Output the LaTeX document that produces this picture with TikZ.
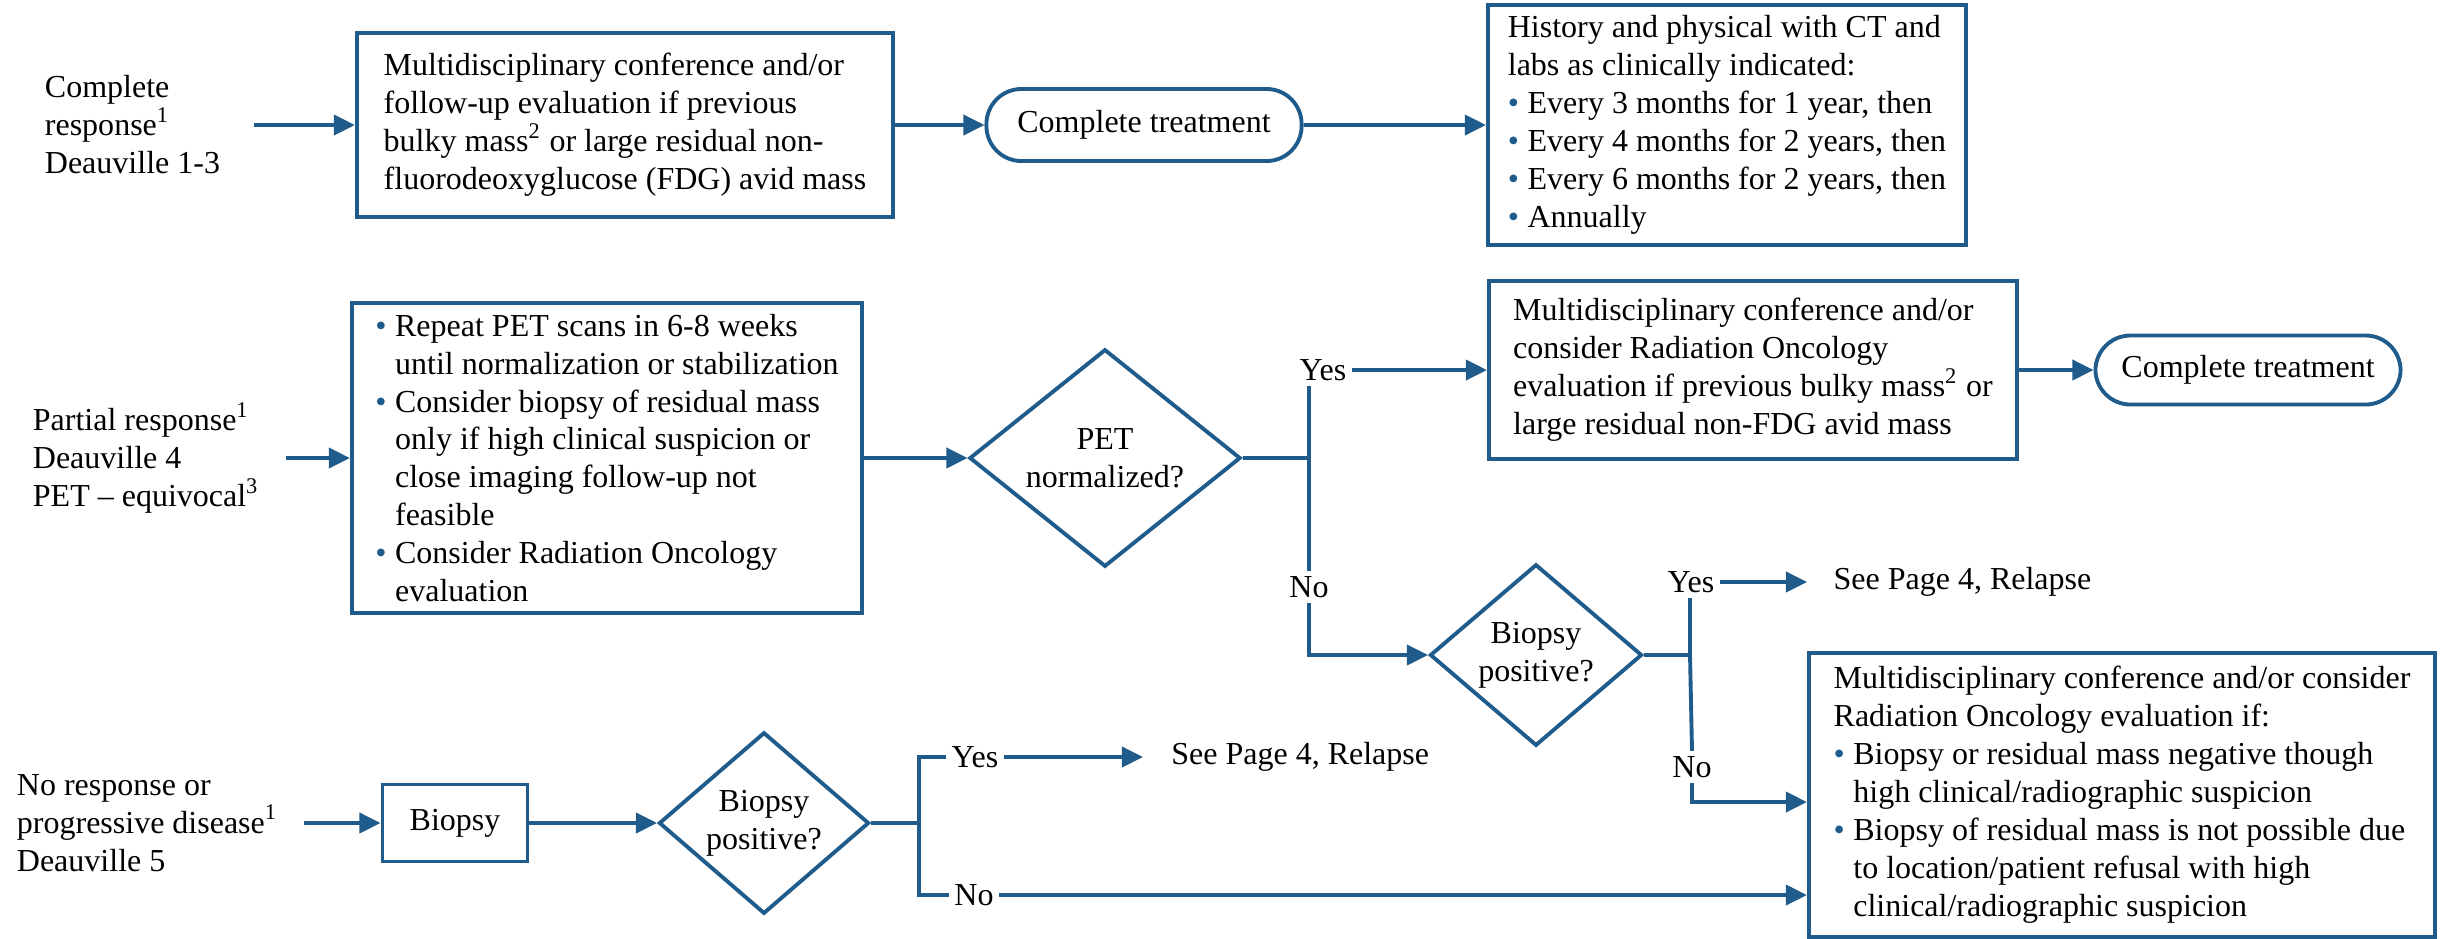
\documentclass[tikz,border=0pt]{standalone}
\usepackage{fontspec}
\setmainfont{Liberation Serif}
\usetikzlibrary{positioning}
\usetikzlibrary{shapes.geometric}
\usetikzlibrary{arrows.meta}

\definecolor{nccn}{HTML}{1F5C8B}
\newcommand{\bul}{\makebox[5.6pt][l]{\textcolor{nccn}{\textbullet}}}
\newcommand{\bulind}{\hspace*{5.6pt}}

\begin{document}
\begin{tikzpicture}[x=0.01cm, y=-0.01cm, line width=1.1pt,
    every node/.style={font=\rmfamily\fontsize{9.1}{10.8}\selectfont},
    box/.style={draw=nccn, rectangle, align=left, inner xsep=4pt, inner ysep=1pt},
    pill/.style={draw=nccn, rectangle, rounded corners=0.35cm, align=center},
    dec/.style={draw=nccn, diamond, align=center, inner sep=0pt},
    resp/.style={anchor=west, align=left, inner sep=0pt},
    lbl/.style={inner sep=1pt},
    arr/.style={draw=nccn, -{Triangle[length=6pt,width=5.7pt]}},
    conn/.style={draw=nccn}]
        \useasboundingbox (0,0) rectangle (2443,938);

        % complete response
        \node[resp] (cr) at (43,125) {Complete\\response\textsuperscript{1}\\Deauville 1-3};
        \node[box, minimum width=5.36cm, minimum height=1.84cm] (conf1) at (625,125) {Multidisciplinary conference and/or\\follow-up evaluation if previous\\bulky mass\textsuperscript{2} or large residual non-\\fluorodeoxyglucose (FDG) avid mass};
        \node[pill, minimum width=3.15cm, minimum height=0.72cm] (done1) at (1144,125) {Complete treatment};
        \node[box, minimum width=4.78cm, minimum height=2.40cm] (hist) at (1727,125) {History and physical with CT and\\labs as clinically indicated:\\\bul Every 3 months for 1 year, then\\\bul Every 4 months for 2 years, then\\\bul Every 6 months for 2 years, then\\\bul Annually};

        % partial response
        \node[resp] (pr) at (31,458) {Partial response\textsuperscript{1}\\Deauville 4\\PET \textendash{} equivocal\textsuperscript{3}};
        \node[box, minimum width=5.10cm, minimum height=3.10cm] (rpt) at (607,458) {\bul Repeat PET scans in 6-8 weeks\\\bulind until normalization or stabilization\\\bul Consider biopsy of residual mass\\\bulind only if high clinical suspicion or\\\bulind close imaging follow-up not\\\bulind feasible\\\bul Consider Radiation Oncology\\\bulind evaluation};
        \node[dec, minimum width=2.71cm, minimum height=2.03cm] (petn) at (1105,458) {PET\\normalized?};
        \coordinate (j1) at (1309,458);
        \node[lbl] (yes1) at (1323,370) {Yes};
        \node[lbl] (no1) at (1309,587) {No};
        \node[box, minimum width=5.28cm, minimum height=1.78cm] (conf2) at (1753,370) {Multidisciplinary conference and/or\\consider Radiation Oncology\\evaluation if previous bulky mass\textsuperscript{2} or\\large residual non-FDG avid mass};
        \node[pill, minimum width=3.05cm, minimum height=0.69cm] (done2) at (2248,370) {Complete treatment};
        \node[dec, minimum width=2.12cm, minimum height=1.60cm] (bpos1) at (1536,655) {Biopsy\\positive?};
        \coordinate (j2) at (1690,655);
        \node[lbl] (yes2) at (1691,582) {Yes};
        \node[lbl] (no2) at (1692,767) {No};
        \node[anchor=west, inner xsep=7pt] (rel1) at (1807,582) {See Page 4, Relapse};
        \node[box, minimum width=6.26cm, minimum height=2.84cm] (conf3) at (2122,795) {Multidisciplinary conference and/or consider\\Radiation Oncology evaluation if:\\\bul Biopsy or residual mass negative though\\\bulind high clinical/radiographic suspicion\\\bul Biopsy of residual mass is not possible due\\\bulind to location/patient refusal with high\\\bulind clinical/radiographic suspicion};

        % no response
        \node[resp] (nr) at (15,823) {No response or\\progressive disease\textsuperscript{1}\\Deauville 5};
        \node[box, minimum width=1.45cm, minimum height=0.77cm, align=center] (bx) at (455,823) {Biopsy};
        \node[dec, minimum width=2.10cm, minimum height=1.69cm] (bpos2) at (764,823) {Biopsy\\positive?};
        \coordinate (j3) at (919,823);
        \node[lbl] (yes3) at (975,757) {Yes};
        \node[lbl] (no3) at (974,895) {No};
        \node[anchor=west, inner xsep=7.5pt] (rel2) at (1143,757) {See Page 4, Relapse};

        \draw[arr, shorten <=9pt] (cr.east) -- (conf1.west);
        \draw[arr] (conf1.east) -- (done1.west);
        \draw[arr] (done1.east) -- (hist.west);

        \draw[arr, shorten <=7pt] (pr.east) -- (rpt.west);
        \draw[arr] (rpt.east) -- (petn.west);
        \draw[conn] (petn.east) -- (j1) -- (j1 |- yes1.south);
        \draw[arr] (yes1.east) -- (yes1.east -| conf2.west);
        \draw[conn] (j1) -- (no1.north);
        \draw[arr] (no1.south) |- (bpos1.west);
        \draw[arr] (conf2.east) -- (done2.west);
        \draw[conn] (bpos1.east) -- (j2) -- (j2 |- yes2.south);
        \draw[arr] (yes2.east) -- (rel1.west);
        \draw[conn] (j2) -- (no2.north);
        \draw[arr] (no2.south) |- (conf3.west |- 0,802);

        \draw[arr, shorten <=7pt] (nr.east) -- (bx.west);
        \draw[arr] (bx.east) -- (bpos2.west);
        \draw[conn] (bpos2.east) -- (j3) |- (yes3.west);
        \draw[arr] (yes3.east) -- (rel2.west);
        \draw[conn] (j3) |- (no3.west);
        \draw[arr] (no3.east) -- (no3.east -| conf3.west);
\end{tikzpicture}
\end{document}
